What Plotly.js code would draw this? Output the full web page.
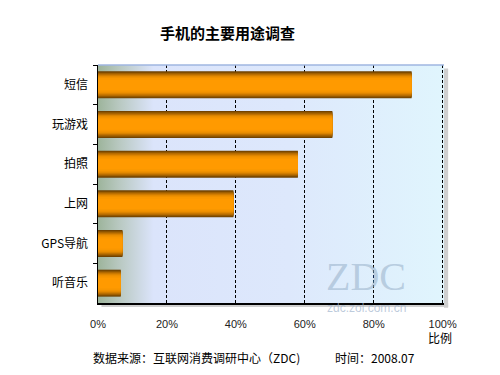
<!DOCTYPE html>
<html><head><meta charset="utf-8">
<script src="https://cdn.plot.ly/plotly-3.0.1.min.js"></script>
<style>body{margin:0;background:#fff}#c{width:500px;height:375px}</style>
</head><body><div id="c"></div>
<script>
var categories = ['短信','玩游戏','拍照','上网','GPS导航','听音乐'];
var values = [91, 68, 58, 39.3, 7.1, 6.6];
var tickVals = [0,20,40,60,80,100];
var tickText = ['0%','20%','40%','60%','80%','100%'];

var layers = [
  [0.68,'#6e4100'],[0.64,'#834e00'],[0.60,'#9a5c00'],[0.56,'#b06900'],
  [0.52,'#c47500'],[0.48,'#d68000'],[0.44,'#e58a00'],[0.40,'#f09100'],
  [0.34,'#f99700'],[0.26,'#ff9a00']
];
var traces = layers.map(function(l){
  return {type:'bar', orientation:'h', y:categories, x:values, width:l[0],
    marker:{color:l[1], line:{width:0}}, hoverinfo:'skip', showlegend:false};
});

var bg = '<svg xmlns="http://www.w3.org/2000/svg" width="400" height="100" preserveAspectRatio="none">'+
 '<defs><linearGradient id="g" x1="0" y1="0" x2="1" y2="0">'+
 '<stop offset="0" stop-color="#9db49b"/><stop offset="0.06" stop-color="#b8c8c0"/>'+
 '<stop offset="0.16" stop-color="#dbe4fb"/><stop offset="0.55" stop-color="#dde8fc"/>'+
 '<stop offset="1" stop-color="#e0f5fd"/></linearGradient></defs>'+
 '<rect width="400" height="100" fill="url(#g)"/></svg>';
var bgSrc = 'data:image/svg+xml;charset=utf-8,' + encodeURIComponent(bg);

var layout = {
  width:500, height:375,
  margin:{l:98, r:56, t:65, b:72},
  paper_bgcolor:'#ffffff', plot_bgcolor:'rgba(0,0,0,0)',
  barmode:'overlay',
  font:{family:'"Noto Sans CJK SC", "DejaVu Sans", sans-serif', color:'#000'},
  title:{text:'<b>手机的主要用途调查</b>', x:0.455, xanchor:'center', y:0.91, yanchor:'middle',
    font:{size:15, color:'#000', family:'"Noto Sans CJK SC", sans-serif'}},
  xaxis:{range:[0,100.4], tickvals:tickVals, ticktext:tickText, showgrid:true,
    gridcolor:'#000', gridwidth:1, griddash:'3px,2px', zeroline:false,
    showline:true, linecolor:'#000', linewidth:1.5, ticks:'', ticklabelstandoff:10,
    tickfont:{size:11, family:'"Liberation Sans", Arial, sans-serif', color:'#222'},
    fixedrange:true},
  yaxis:{autorange:'reversed', showline:true, linecolor:'#000', linewidth:1.5,
    ticks:'outside', tickson:'boundaries', ticklen:4, tickcolor:'#000',
    ticklabelstandoff:6, showgrid:false, zeroline:false,
    tickfont:{size:12, color:'#000'}, fixedrange:true},
  images:[{source:bgSrc, xref:'x domain', yref:'y domain', x:0, y:1, sizex:1, sizey:1,
    sizing:'stretch', xanchor:'left', yanchor:'top', layer:'below'}],
  shapes:[
    {type:'rect', xref:'paper', yref:'paper', x0:1.0, x1:1.012, y0:-0.02, y1:0.985,
      fillcolor:'#cfcfcf', line:{width:0}, layer:'below'},
    {type:'rect', xref:'paper', yref:'paper', x0:0.01, x1:1.012, y0:-0.017, y1:0,
      fillcolor:'#cfcfcf', line:{width:0}, layer:'below'},
    {type:'line', xref:'paper', yref:'paper', x0:0, x1:1, y0:1, y1:1,
      line:{color:'#9fb6e0', width:1.5}}
  ],
  annotations:[
    {text:'比例', xref:'paper', yref:'paper', x:0.988, y:-0.145, xanchor:'center', yanchor:'middle',
      showarrow:false, font:{size:12, color:'#000'}},
    {text:'数据来源：互联网消费调研中心（ZDC)', xref:'paper', yref:'paper', x:-0.02, y:-0.228,
      xanchor:'left', yanchor:'middle', showarrow:false, font:{size:12, color:'#000'}},
    {text:'时间：2008.07', xref:'paper', yref:'paper', x:0.68, y:-0.228,
      xanchor:'left', yanchor:'middle', showarrow:false, font:{size:12, color:'#000'}},
    {text:'ZDC', xref:'paper', yref:'paper', x:0.775, y:0.11, xanchor:'center', yanchor:'middle',
      showarrow:false, font:{size:40, color:'rgba(150,175,200,0.55)', family:'"Liberation Serif", serif'}},
    {text:'zdc.zol.com.cn', xref:'paper', yref:'paper', x:0.775, y:-0.022, xanchor:'center', yanchor:'middle',
      showarrow:false, font:{size:12, color:'rgba(160,180,205,0.7)', family:'"Liberation Sans", sans-serif'}}
  ]
};
Plotly.newPlot('c', traces, layout, {displayModeBar:false, staticPlot:true});
</script></body></html>
